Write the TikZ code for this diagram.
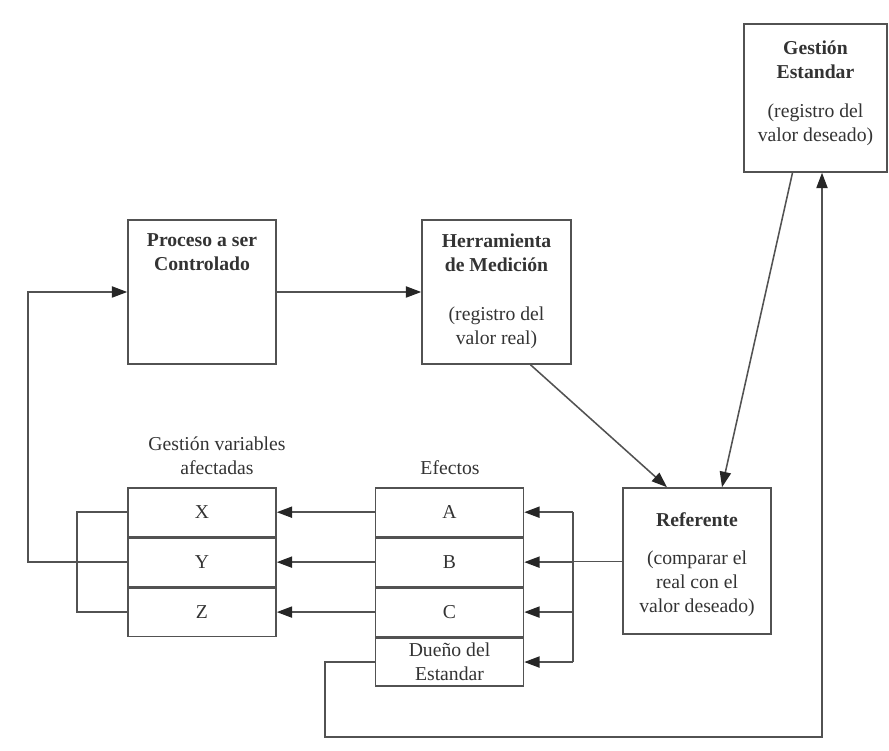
\documentclass[tikz,border=0pt]{standalone}
\usepackage{fontspec}
\setmainfont{Liberation Serif}
\usetikzlibrary{positioning,calc,arrows.meta}

\definecolor{linegray}{gray}{0.32}
\definecolor{textgray}{gray}{0.2}

\tikzset{
	box/.style={draw=linegray, line width=1.1pt, minimum width=37mm, minimum height=36mm, inner sep=0pt},
	row/.style={draw=linegray, line width=1.1pt, minimum width=37mm, minimum height=12.1mm, inner sep=0pt, font=\fontsize{14}{15}\selectfont},
	boxtext/.style={anchor=north, align=center, inner sep=0pt, font=\fontsize{14}{17}\selectfont},
	wire/.style={draw=linegray, line width=1.1pt},
	arr/.style={wire, -{Triangle[length=11pt,width=8pt,color=black!85]}}
}

\begin{document}
\begin{tikzpicture}[x=0.25mm, y=-0.25mm, text=textgray, node distance=0pt]
	\useasboundingbox (0,0) rectangle (889,751);
	% main boxes
	\node[box] (proc) at (202,292) {};
	\node[box, minimum width=37.25mm] (herr) at (496.5,292) {};
	\node[box, minimum width=35.75mm, minimum height=37mm] (gest) at (815.5,98) {};
	\node[box, minimum height=36.5mm] (refe) at (697,561) {};
	\node[boxtext] (proct) at ($(proc.north)+(0,14)$) {\textbf{Proceso a ser}\\\textbf{Controlado}};
	\node[boxtext] (herrt) at ($(herr.north)+(0,14)$) {\textbf{Herramienta}\\\textbf{de Medición}\\[18pt](registro del\\valor real)};
	\node[boxtext] (gestt) at ($(gest.north)+(0,17)$) {\textbf{Gestión}\\\textbf{Estandar}\\[11pt](registro del\\valor deseado)};
	\node[boxtext] (refet) at ($(refe.north)+(0,25)$) {\textbf{Referente}\\[10pt](comparar el\\real con el\\valor deseado)};
	% effects and variables
	\node[row] (A) at (449.5,512.2) {A};
	\node[row, below=of A] (B) {B};
	\node[row, below=of B] (C) {C};
	\node[row, below=of C, align=center, font=\fontsize{14}{17}\selectfont] (D) {Dueño del\\Estandar};
	\node[row] (X) at (202,512.2) {X};
	\node[row, below=of X] (Y) {Y};
	\node[row, below=of Y] (Z) {Z};
	\node[boxtext] (gvlab) at (217,437) {Gestión variables\\afectadas};
	\node[boxtext] (eflab) at (450,460) {Efectos};
	% connectors
	\draw[arr] (proc.east) -- (herr.west);
	\draw[arr] ($(herr.south)+(34,0)$) -- ($(refe.north)+(-30,0)$);
	\draw[arr] ($(gest.south)+(-23,0)$) -- ($(refe.north)+(25,0)$);
	\coordinate (bus) at (573,561);
	\draw[wire, line width=0.7pt] (refe.west) -- (bus);
	\draw[wire] (A.east -| bus) -- (D.east -| bus);
	\foreach \r in {A,B,C,D}
		\draw[arr] (\r.east -| bus) -- (\r.east);
	\foreach \a/\b in {A/X,B/Y,C/Z}
		\draw[arr] (\a.west) -- (\b.east);
	\coordinate (lbar) at (77,0);
	\draw[wire] (X.west) -- (X.west -| lbar) -- (Z.west -| lbar) -- (Z.west);
	\coordinate (lloop) at (28,0);
	\draw[arr] (Y.west) -- (Y.west -| lloop) -- (proc.west -| lloop) -- (proc.west);
	\coordinate (bloop) at (325,737);
	\coordinate (gin) at ($(gest.south)+(6.5,0)$);
	\draw[arr] (D.west) -- (D.west -| bloop) -- (bloop) -- (bloop -| gin) -- (gin);
\end{tikzpicture}
\end{document}
